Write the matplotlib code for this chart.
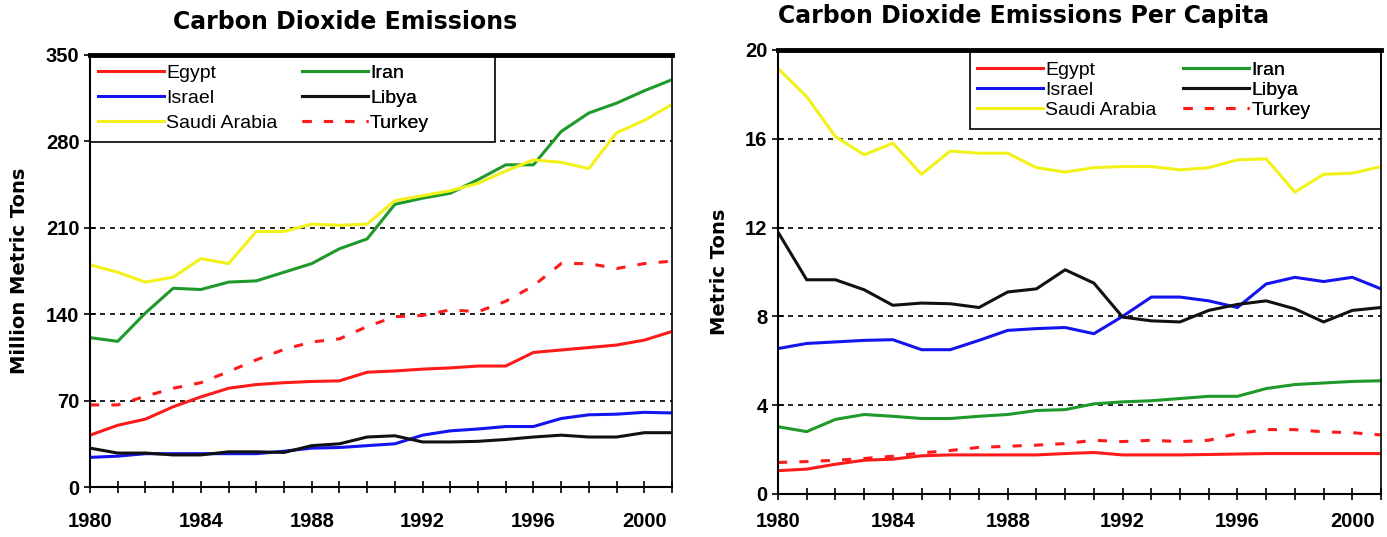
import matplotlib.pyplot as plt
from matplotlib.patches import Rectangle
from matplotlib.ticker import MultipleLocator

years = list(range(1980, 2002))

# total emissions, million metric tons
egypt = [42, 50, 55, 65, 73, 80, 83, 84.5, 85.5, 86, 93, 94, 95.5, 96.5, 98, 98, 109, 111, 113, 115, 119, 126]
iran = [121, 118, 141, 161, 160, 166, 167, 174, 181, 193, 201, 229, 234, 238, 249, 261, 261, 288, 303, 311, 321, 330]
israel = [24, 25, 27, 27, 27, 27, 27, 29, 31.5, 32, 33.5, 35, 42, 45.5, 47, 49, 49, 55.5, 58.5, 59, 60.5, 60]
libya = [31.5, 27.5, 27.5, 26, 26, 28.5, 28.5, 28, 33.5, 35, 40.5, 41.5, 36.5, 36.5, 37, 38.5, 40.5, 42, 40.5, 40.5, 44, 44]
saudi = [180, 174, 166, 170, 185, 181, 207, 207, 213, 212, 213, 232, 236, 240, 246, 256, 265, 263, 258, 287, 297, 310]
turkey = [66.5, 66.5, 73.5, 80, 84.5, 93.5, 103, 111.5, 117.5, 120, 130, 138, 139, 143.5, 142, 150.5, 163, 181, 181, 177, 181, 183]

# per capita, metric tons
egypt_pc = [1.05, 1.12, 1.34, 1.52, 1.57, 1.72, 1.76, 1.76, 1.76, 1.76, 1.82, 1.87, 1.76, 1.76, 1.76, 1.78, 1.8, 1.82, 1.82, 1.82, 1.82, 1.82]
iran_pc = [3.03, 2.81, 3.36, 3.58, 3.5, 3.4, 3.4, 3.5, 3.58, 3.76, 3.8, 4.06, 4.15, 4.2, 4.3, 4.4, 4.4, 4.75, 4.93, 5.0, 5.07, 5.1]
israel_pc = [6.55, 6.78, 6.85, 6.92, 6.95, 6.5, 6.5, 6.92, 7.37, 7.45, 7.5, 7.22, 8.0, 8.87, 8.87, 8.7, 8.4, 9.46, 9.76, 9.57, 9.76, 9.24]
libya_pc = [11.8, 9.65, 9.65, 9.2, 8.5, 8.6, 8.57, 8.4, 9.1, 9.24, 10.1, 9.5, 7.97, 7.8, 7.75, 8.27, 8.54, 8.7, 8.34, 7.75, 8.27, 8.4]
saudi_pc = [19.17, 17.9, 16.1, 15.28, 15.8, 14.4, 15.45, 15.35, 15.35, 14.7, 14.5, 14.7, 14.75, 14.75, 14.6, 14.7, 15.05, 15.1, 13.6, 14.4, 14.45, 14.75]
turkey_pc = [1.42, 1.46, 1.52, 1.6, 1.7, 1.85, 1.96, 2.1, 2.15, 2.2, 2.27, 2.42, 2.36, 2.42, 2.36, 2.42, 2.72, 2.9, 2.9, 2.8, 2.76, 2.66]

names = ["Egypt", "Iran", "Israel", "Libya", "Saudi Arabia", "Turkey"]
colors = ["#ff1a1a", "#1f9a2a", "#1414f0", "#111111", "#f2f21a", "#ff1a1a"]

plt.rcParams['font.family'] = ['Liberation Sans', 'DejaVu Sans']

fig = plt.figure(figsize=(13.87, 5.37), dpi=100)
ax1 = fig.add_axes([0.0649, 0.0931, 0.4196, 0.8045])
ax2 = fig.add_axes([0.5609, 0.0801, 0.4348, 0.8268])


def draw(ax, series, ylim, ystep, ylabel, box, col_x, top_y, lspace, xpad):
    lines = []
    for name, vals, c in zip(names, series, colors):
        if name == "Turkey":
            ln, = ax.plot(years, vals, color=c, lw=2.2, linestyle=(0, (3, 4)), label=name)
        else:
            ln, = ax.plot(years, vals, color=c, lw=2.2, label=name)
        lines.append(ln)
    ax.set_xlim(1980, 2001)
    ax.set_ylim(0, ylim)
    ax.xaxis.set_major_locator(MultipleLocator(4))
    ax.xaxis.set_minor_locator(MultipleLocator(1))
    ax.yaxis.set_major_locator(MultipleLocator(ystep))
    ax.tick_params(which='both', direction='inout', length=8, width=1.2,
                   labelsize=14.5)
    ax.tick_params(axis='x', pad=xpad)
    for lab in ax.get_xticklabels() + ax.get_yticklabels():
        lab.set_fontweight('bold')
    ax.yaxis.grid(True, linestyle=(0, (3, 3)), color='black', lw=1.2)
    ax.set_ylabel(ylabel, fontsize=14, fontweight='bold', labelpad=12,
                  family='DejaVu Sans')
    for s in ax.spines.values():
        s.set_linewidth(1.5)
        s.set_color('black')
        s.set_zorder(6)
    ax.spines['top'].set_linewidth(3.5)
    ax.spines['right'].set_linewidth(1.2)

    # legend box, then the two columns of the legend
    x0, y0, x1 = box
    ax.add_patch(Rectangle((x0, y0), x1 - x0, 1 - y0, transform=ax.transAxes,
                           facecolor='white', edgecolor='black', lw=1.2,
                           zorder=4, clip_on=False))
    for k, cols in enumerate([[0, 2, 4], [1, 3, 5]]):
        leg = ax.legend([lines[i] for i in cols], [names[i] for i in cols],
                        loc='upper left', bbox_to_anchor=(col_x[k], top_y),
                        fontsize=14, handlelength=3.4, handletextpad=0.1,
                        labelspacing=lspace, borderaxespad=0, borderpad=0,
                        frameon=False)
        leg.set_zorder(5)
        ax.add_artist(leg)


draw(ax1, [egypt, iran, israel, libya, saudi, turkey], 350, 70,
     "Million Metric Tons", (0.0, 0.799, 0.696), (0.0137, 0.364), 0.978, 0.38, 14)
draw(ax2, [egypt_pc, iran_pc, israel_pc, libya_pc, saudi_pc, turkey_pc], 20, 4,
     "Metric Tons", (0.318, 0.822, 1.0), (0.330, 0.672), 0.975, 0.12, 9)

fig.text(345 / 1387, 1 - 22 / 537, "Carbon Dioxide Emissions", ha='center', va='center',
         fontsize=17, fontweight='bold', family='DejaVu Sans')
fig.text(778 / 1387, 1 - 16 / 537, "Carbon Dioxide Emissions Per Capita", ha='left',
         va='center', fontsize=17, fontweight='bold', family='DejaVu Sans')

fig.savefig("out.png", dpi=100)
